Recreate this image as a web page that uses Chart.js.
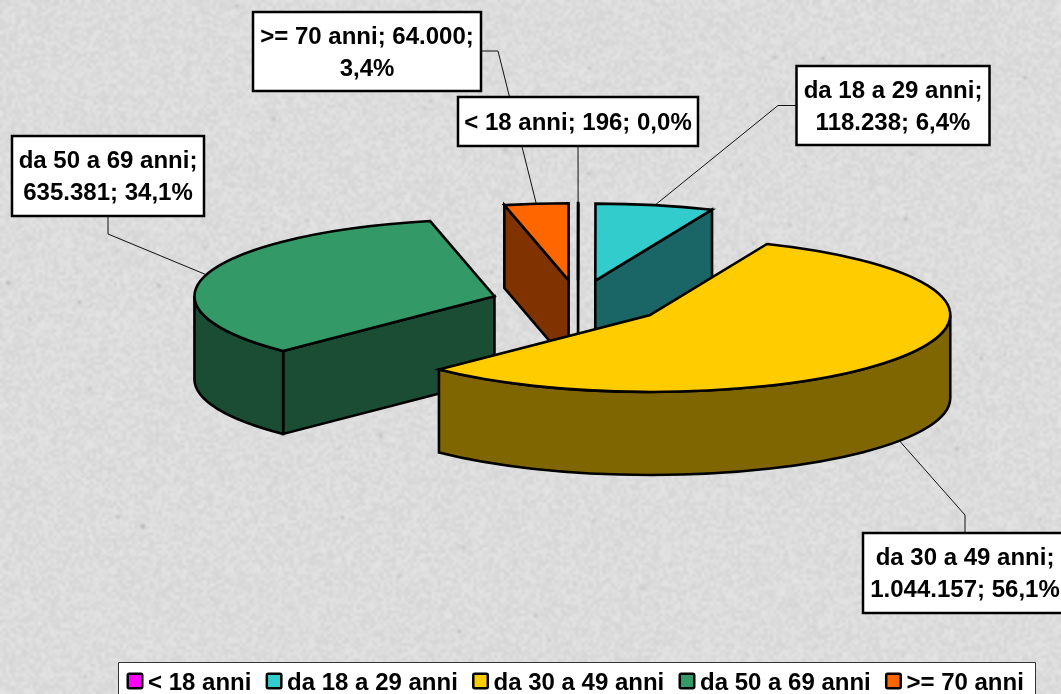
<!DOCTYPE html>
<html>
<head>
<meta charset="utf-8">
<style>html,body{margin:0;padding:0;background:#dadada;overflow:hidden}canvas{display:block}</style>
<script src="https://cdn.jsdelivr.net/npm/chart.js@4/dist/chart.umd.js"></script>
</head>
<body>
<canvas id="c" width="1061" height="694"></canvas>
<script>
// ---- data ----
const categories = ['< 18 anni', 'da 18 a 29 anni', 'da 30 a 49 anni', 'da 50 a 69 anni', '>= 70 anni'];
const values = [196, 118238, 1044157, 635381, 64000];
const percents = ['0,0%', '6,4%', '56,1%', '34,1%', '3,4%'];
const topColors = ['#FF00FF', '#33CCCC', '#FFCC00', '#339966', '#FF6600'];
const wallColors = ['#800080', '#1A6666', '#806600', '#1A4D33', '#803300'];
const labelLines = [[3], [1], [1], [1], [2]]; // parts before the line break

// ---- view settings ----
const FONT = 'bold 24px "Liberation Sans", Arial, sans-serif';
const SQUASH = 77 / 300, DEPTH = 83, EXPLODE = 87, RADIUS = 300, EDGE = 2.6;
const labelBoxes = [
  {l: 458, t: 97, r: 698, b: 146, from: [578, 146]},
  {l: 796.5, t: 66, r: 989.5, b: 145, from: [796, 105.5], elbow: [778, 105.5]},
  {l: 863, t: 533, r: 1067, b: 613, from: [965, 533], elbow: [965, 515], front: true},
  {l: 12, t: 136, r: 204, b: 216, from: [108, 216], elbow: [108, 234]},
  {l: 253, t: 12, r: 481, b: 91, from: [481, 51], elbow: [498, 51]}
];
const legendBox = {l: 118, t: 662, r: 1035, b: 700, start: 126.5, swatch: 17, swatchTop: 672.5, textGap: 21.5, itemGap: 14.2, baseline: 689.5};

const fmt = v => String(v).replace(/\B(?=(\d{3})+$)/g, '.');

function noiseBackground(ctx, w, h) {
  let s = 20231;
  const rnd = () => { s = (s * 1664525 + 1013904223) >>> 0; return s / 4294967296; };
  const t = document.createElement('canvas');
  t.width = Math.ceil(w / 3); t.height = Math.ceil(h / 3);
  const g = t.getContext('2d');
  const img = g.createImageData(t.width, t.height);
  for (let i = 0; i < img.data.length; i += 4) {
    const v = 220 + (rnd() - 0.5) * 15;
    img.data[i] = img.data[i + 1] = img.data[i + 2] = v;
    img.data[i + 3] = 255;
  }
  g.putImageData(img, 0, 0);
  ctx.save();
  ctx.imageSmoothingEnabled = true;
  ctx.imageSmoothingQuality = 'high';
  ctx.drawImage(t, 0, 0, w, h);
  ctx.filter = 'blur(1px)';
  for (let i = 0; i < 150; i++) {
    const x = rnd() * w, y = rnd() * h, r = 1 + rnd() * 1.4, d = rnd() < 0.6;
    ctx.fillStyle = d ? 'rgba(155,155,155,' + (0.25 + rnd() * 0.35) + ')' : 'rgba(240,240,240,0.5)';
    ctx.beginPath(); ctx.arc(x, y, r, 0, Math.PI * 2); ctx.fill();
  }
  ctx.restore();
}

function sliceGeometry(arc) {
  const p = arc.getProps(['x', 'y', 'startAngle', 'endAngle', 'outerRadius']);
  const mid = (p.startAngle + p.endAngle) / 2;
  const off = arc.options.offset;
  const cx = p.x + Math.cos(mid) * off;
  const cy = p.y + Math.sin(mid) * off * SQUASH;
  const rx = p.outerRadius, ry = p.outerRadius * SQUASH;
  return {cx, cy, rx, ry, a0: p.startAngle, a1: p.endAngle, mid};
}
const pt = (g, a, dz = 0) => [g.cx + Math.cos(a) * g.rx, g.cy + Math.sin(a) * g.ry + dz];

function paintPath(ctx, fill) {
  ctx.fillStyle = fill; ctx.fill();
  ctx.lineWidth = EDGE; ctx.strokeStyle = '#000'; ctx.lineJoin = 'miter'; ctx.stroke();
}

function cutWall(ctx, g, a, fill) {
  const p = pt(g, a);
  ctx.beginPath();
  ctx.moveTo(g.cx, g.cy); ctx.lineTo(p[0], p[1]);
  ctx.lineTo(p[0], p[1] + DEPTH); ctx.lineTo(g.cx, g.cy + DEPTH); ctx.closePath();
  paintPath(ctx, fill);
}

function outerWall(ctx, g, from, to, fill) {
  const s = pt(g, from), e = pt(g, to);
  ctx.beginPath();
  ctx.moveTo(s[0], s[1]);
  ctx.ellipse(g.cx, g.cy, g.rx, g.ry, 0, from, to);
  ctx.lineTo(e[0], e[1] + DEPTH);
  ctx.ellipse(g.cx, g.cy + DEPTH, g.rx, g.ry, 0, to, from, true);
  ctx.closePath();
  paintPath(ctx, fill);
}

function drawSlice(ctx, g, i) {
  const wall = wallColors[i];
  if (Math.cos(g.a0) < 0) cutWall(ctx, g, g.a0, wall);
  if (Math.cos(g.a1) > 0) cutWall(ctx, g, g.a1, wall);
  // front facing part of the rim: canvas angles between 0 and PI
  for (const k of [0, 2]) {
    const from = Math.max(g.a0, k * Math.PI), to = Math.min(g.a1, (k + 1) * Math.PI);
    if (to > from) outerWall(ctx, g, from, to, wall);
  }
  ctx.beginPath();
  ctx.moveTo(g.cx, g.cy);
  ctx.ellipse(g.cx, g.cy, g.rx, g.ry, 0, g.a0, g.a1);
  ctx.closePath();
  paintPath(ctx, topColors[i]);
}

function labelText(i) {
  const parts = [categories[i] + ';', fmt(values[i]) + ';', percents[i]];
  const n = labelLines[i][0];
  const lines = [parts.slice(0, n).join(' ')];
  if (n < parts.length) lines.push(parts.slice(n).join(' '));
  return lines;
}

function drawLeader(ctx, g, i) {
  const b = labelBoxes[i];
  const a = pt(g, g.mid, b.front ? DEPTH : 0);
  ctx.beginPath();
  ctx.moveTo(b.from[0], b.from[1]);
  if (b.elbow) ctx.lineTo(b.elbow[0], b.elbow[1]);
  ctx.lineTo(a[0], a[1]);
  ctx.lineWidth = 1; ctx.strokeStyle = '#111'; ctx.stroke();
}

function drawLabel(ctx, i) {
  const b = labelBoxes[i];
  ctx.fillStyle = '#fff'; ctx.strokeStyle = '#000'; ctx.lineWidth = 2.5;
  ctx.beginPath(); ctx.rect(b.l, b.t, b.r - b.l, b.b - b.t); ctx.fill(); ctx.stroke();
  const lines = labelText(i);
  ctx.font = FONT; ctx.textAlign = 'center'; ctx.textBaseline = 'alphabetic'; ctx.fillStyle = '#000';
  const cx = (b.l + b.r) / 2, cy = (b.t + b.b) / 2;
  lines.forEach((t, k) => ctx.fillText(t, cx, cy + 8 + (k - (lines.length - 1) / 2) * 32));
}

function drawLegend(ctx) {
  const L = legendBox;
  ctx.fillStyle = '#fff'; ctx.strokeStyle = '#333'; ctx.lineWidth = 1;
  ctx.beginPath(); ctx.rect(L.l + .5, L.t + .5, L.r - L.l, L.b - L.t); ctx.fill(); ctx.stroke();
  ctx.font = FONT; ctx.textAlign = 'left'; ctx.textBaseline = 'alphabetic';
  let x = L.start;
  categories.forEach((c, i) => {
    ctx.beginPath();
    ctx.roundRect(x + 1.25, L.swatchTop + 1.25, L.swatch - 2.5, L.swatch - 2.5, 1.5);
    ctx.fillStyle = topColors[i]; ctx.fill();
    ctx.lineWidth = 2.5; ctx.strokeStyle = '#000'; ctx.stroke();
    ctx.fillStyle = '#000';
    ctx.fillText(c, x + L.textGap, L.baseline);
    x += L.textGap + ctx.measureText(c).width + L.itemGap;
  });
}

const pie3d = {
  id: 'pie3d',
  beforeDraw(chart) { noiseBackground(chart.ctx, chart.width, chart.height); },
  beforeDatasetDraw() { return false; },
  afterDatasetsDraw(chart) {
    const ctx = chart.ctx;
    const arcs = chart.getDatasetMeta(0).data;
    const geos = arcs.map(sliceGeometry);
    ctx.save();
    geos.forEach((g, i) => drawLeader(ctx, g, i));
    geos.map((g, i) => ({g, i})).sort((a, b) => a.g.cy - b.g.cy).forEach(o => drawSlice(ctx, o.g, o.i));
    [4, 0, 1, 3, 2].forEach(i => drawLabel(ctx, i));
    drawLegend(ctx);
    ctx.restore();
  }
};

new Chart(document.getElementById('c'), {
  type: 'pie',
  data: {
    labels: categories,
    datasets: [{data: values, backgroundColor: topColors, borderColor: '#000', borderWidth: 0, offset: EXPLODE}]
  },
  options: {
    responsive: false,
    animation: false,
    events: [],
    radius: RADIUS,
    layout: {padding: {left: 95, right: 0, top: 0, bottom: 89}},
    plugins: {legend: {display: false}, tooltip: {enabled: false}, title: {display: false}}
  },
  plugins: [pie3d]
});
</script>
</body>
</html>
